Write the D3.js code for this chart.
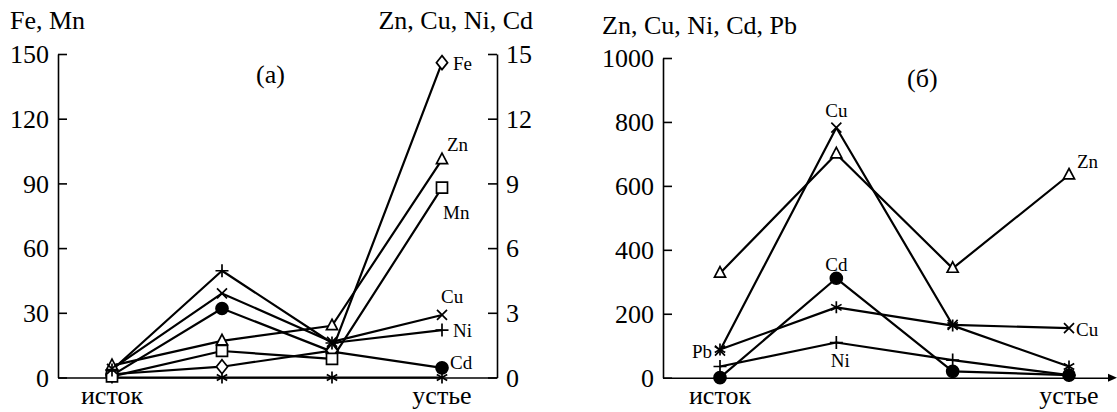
<!DOCTYPE html>
<html><head><meta charset="utf-8"><script src="https://cdn.jsdelivr.net/npm/d3@7"></script></head>
<body style="margin:0">
<svg width="1117" height="412"></svg>
<script>
// stations along the river
const stations = ['исток', '', '', 'устье'];

// panel (a): Fe, Mn on left axis; Zn, Cu, Ni, Cd on right axis
const aFe = [1.5, 5, 12.5, 146];
const aMn = [0.5, 12.3, 8.6, 88];
const aZn = [0.55, 1.7, 2.4, 10.1];
const aCu = [0.4, 3.9, 1.65, 2.9];
const aNi = [0.35, 4.95, 1.6, 2.2];
const aCd = [0.1, 3.2, 1.2, 0.45];
const aPb = [0, 0, 0, 0];

// panel (б)
const bZn = [327, 700, 342, 634];
const bCu = [85, 782, 165, 155];
const bNi = [35, 110, 55, 8];
const bCd = [0, 311, 20, 8];
const bPb = [88, 220, 163, 35];

const ticksA1 = [0, 30, 60, 90, 120, 150];
const ticksA2 = [0, 3, 6, 9, 12, 15];
const ticksB = [0, 200, 400, 600, 800, 1000];

const svg = d3.select('svg');

// text helper, serif everywhere
function txt(sel, size) {
  return sel.append('text')
    .style('font-family', '"Liberation Serif"')
    .style('font-size', size + 'px');
}

// marker shapes
const symPlus = { draw(c, s) { const r = Math.sqrt(s) / 2; c.moveTo(-r, 0); c.lineTo(r, 0); c.moveTo(0, -r); c.lineTo(0, r); } };
const symTimes = { draw(c, s) { const r = Math.sqrt(s) / 2; c.moveTo(-r, -r); c.lineTo(r, r); c.moveTo(r, -r); c.lineTo(-r, r); } };
const symStar = { draw(c, s) {
  const r = Math.sqrt(s) / 2;
  c.moveTo(0, -r); c.lineTo(0, r);
  c.moveTo(-r * 0.87, -r * 0.5); c.lineTo(r * 0.87, r * 0.5);
  c.moveTo(r * 0.87, -r * 0.5); c.lineTo(-r * 0.87, r * 0.5);
} };
const symDiamond = { draw(c, s) { const r = Math.sqrt(s) / 2; c.moveTo(0, -r); c.lineTo(r * 0.8, 0); c.lineTo(0, r); c.lineTo(-r * 0.8, 0); c.closePath(); } };
const symTri = { draw(c, s) { const r = Math.sqrt(s) / 2; c.moveTo(0, -r); c.lineTo(r * 0.85, r * 0.6); c.lineTo(-r * 0.85, r * 0.6); c.closePath(); } };
const symSquare = { draw(c, s) { const r = Math.sqrt(s) / 2; c.rect(-r, -r, 2 * r, 2 * r); } };
const symCircle = { draw(c, s) { const r = Math.sqrt(s) / 2; c.moveTo(r, 0); c.arc(0, 0, r, 0, 2 * Math.PI); } };

const markers = {
  diamond: { type: symDiamond, size: 196, fill: '#fff' },
  tri: { type: symTri, size: 169, fill: '#fff' },
  square: { type: symSquare, size: 121, fill: '#fff' },
  circle: { type: symCircle, size: 144, fill: '#000' },
  plus: { type: symPlus, size: 169, fill: 'none' },
  times: { type: symTimes, size: 100, fill: 'none' },
  star: { type: symStar, size: 144, fill: 'none' }
};

function styleAxis(s) {
  s.selectAll('path, line').attr('stroke', '#000').attr('stroke-width', 1.6);
  s.selectAll('text')
    .attr('dy', '0.34em')
    .style('font-family', '"Liberation Serif"')
    .style('font-size', '26px');
}

function drawPanel(p) {
  const g = svg.append('g');
  const x = d3.scalePoint().domain(d3.range(stations.length)).range(p.xRange);
  const frame = d3.scaleLinear().domain([0, 1]).range(p.frame);

  // x baseline
  g.append('g')
    .attr('transform', `translate(0,${p.y0})`)
    .call(d3.axisBottom(frame).tickValues([]).tickSizeOuter(0))
    .call(styleAxis);
  if (p.arrow) {
    g.append('path')
      .attr('d', `M${p.frame[1]},${p.y0 - 4}L${p.frame[1] + 9},${p.y0}L${p.frame[1]},${p.y0 + 4}Z`)
      .attr('fill', '#000');
  }

  // station labels
  stations.forEach((s, i) => {
    if (!s) return;
    txt(g, 26).attr('x', x(i)).attr('y', p.y0 + 26)
      .attr('text-anchor', 'middle').text(s);
  });

  // y axes
  p.axes.forEach(a => {
    const ax = (a.side === 'left' ? d3.axisLeft(a.scale) : d3.axisRight(a.scale))
      .tickValues(a.ticks).tickFormat(d3.format('d'))
      .tickSize(-9).tickSizeOuter(0).tickPadding(9);
    g.append('g')
      .attr('transform', `translate(${a.x},0)`)
      .call(ax)
      .call(styleAxis);
    txt(g, 26).attr('x', a.titleX).attr('y', a.titleY)
      .attr('text-anchor', a.titleAnchor || 'start')
      .text(a.title);
  });

  txt(g, 26).attr('x', p.tag[0]).attr('y', p.tag[1]).text(p.tag[2]);

  const line = (s) => d3.line().x((d, i) => x(i)).y(d => s.scale(d));

  g.append('g').selectAll('path')
    .data(p.series)
    .join('path')
    .attr('d', s => line(s)(s.values))
    .attr('fill', 'none')
    .attr('stroke', '#000')
    .attr('stroke-width', 2.2)
    .attr('stroke-linejoin', 'round');

  p.series.forEach(s => {
    const m = markers[s.mark];
    g.append('g').selectAll('path')
      .data(s.values)
      .join('path')
      .attr('transform', (d, i) => `translate(${x(i)},${s.scale(d)})`)
      .attr('d', d3.symbol().type(m.type).size(m.size))
      .attr('fill', m.fill)
      .attr('stroke', '#000')
      .attr('stroke-width', 1.7);
    (s.labels || []).forEach(([idx, dx, dy, anchor]) => {
      txt(g, 19)
        .attr('x', x(idx) + dx)
        .attr('y', s.scale(s.values[idx]) + dy)
        .attr('text-anchor', anchor || 'start')
        .text(s.name);
    });
  });
}

// panel (a)
const yA1 = d3.scaleLinear().domain([0, 150]).range([377.5, 54]);
const yA2 = d3.scaleLinear().domain([0, 15]).range([377.5, 54]);
drawPanel({
  xRange: [112, 442], frame: [58, 497], y0: 377.5, arrow: false,
  tag: [256, 83, '(а)'],
  axes: [
    { side: 'left', scale: yA1, ticks: ticksA1, x: 58, title: 'Fe, Mn', titleX: 10, titleY: 29 },
    { side: 'right', scale: yA2, ticks: ticksA2, x: 497, title: 'Zn, Cu, Ni, Cd', titleX: 533, titleY: 29, titleAnchor: 'end' }
  ],
  series: [
    { name: 'Pb', values: aPb, scale: yA2, mark: 'star' },
    { name: 'Cd', values: aCd, scale: yA2, mark: 'circle', labels: [[3, 8, 1]] },
    { name: 'Fe', values: aFe, scale: yA1, mark: 'diamond', labels: [[3, 11, 7]] },
    { name: 'Mn', values: aMn, scale: yA1, mark: 'square', labels: [[3, 1, 31]] },
    { name: 'Zn', values: aZn, scale: yA2, mark: 'tri', labels: [[3, 5, -9]] },
    { name: 'Ni', values: aNi, scale: yA2, mark: 'plus', labels: [[3, 11, 7]] },
    { name: 'Cu', values: aCu, scale: yA2, mark: 'times', labels: [[3, -1, -12]] }
  ]
});

// panel (б)
const yB = d3.scaleLinear().domain([0, 1000]).range([377.7, 58]);
drawPanel({
  xRange: [720, 1069], frame: [663, 1108], y0: 377.7, arrow: true,
  tag: [907, 87, '(б)'],
  axes: [
    { side: 'left', scale: yB, ticks: ticksB, x: 663, title: 'Zn, Cu, Ni, Cd, Pb', titleX: 602, titleY: 34 }
  ],
  series: [
    { name: 'Zn', values: bZn, scale: yB, mark: 'tri', labels: [[3, 8, -7]] },
    { name: 'Cd', values: bCd, scale: yB, mark: 'circle', labels: [[1, 0, -7, 'middle']] },
    { name: 'Ni', values: bNi, scale: yB, mark: 'plus', labels: [[1, 4, 24, 'middle']] },
    { name: 'Pb', values: bPb, scale: yB, mark: 'star', labels: [[0, -8, 8, 'end']] },
    { name: 'Cu', values: bCu, scale: yB, mark: 'times', labels: [[1, 0, -11, 'middle'], [3, 7, 8]] }
  ]
});
</script>
</body>
</html>
